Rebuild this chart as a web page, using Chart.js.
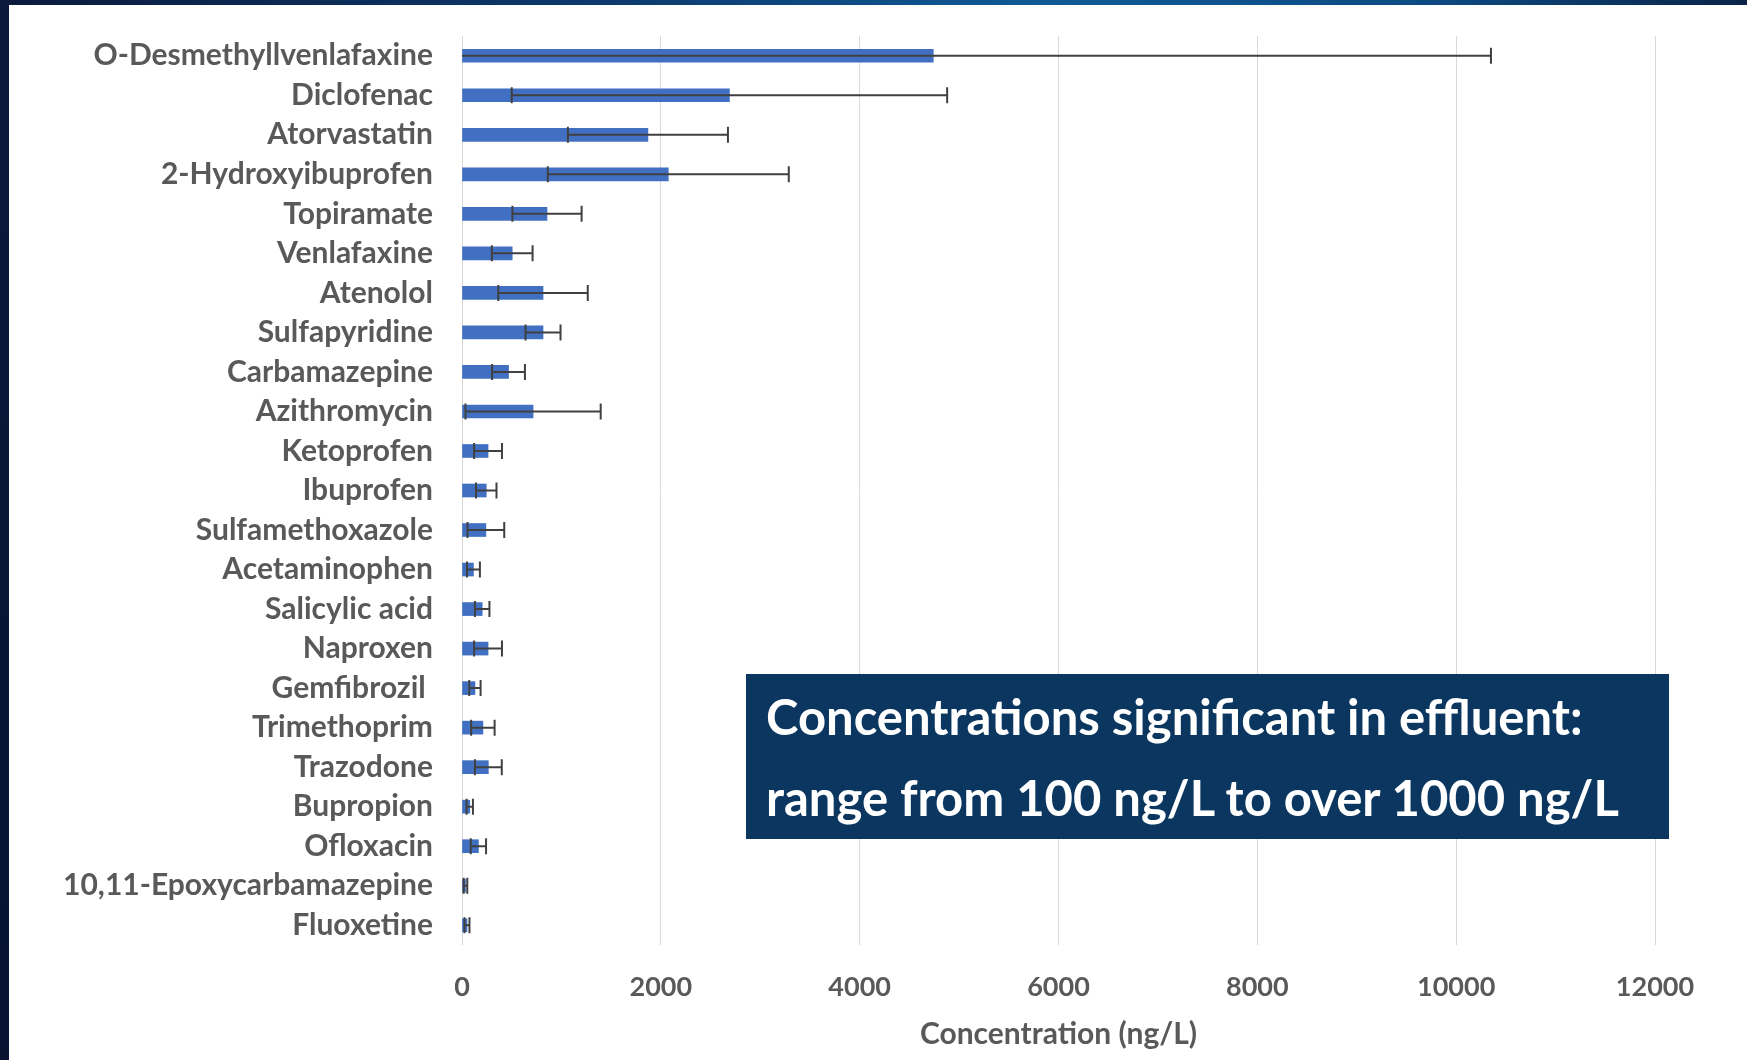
<!DOCTYPE html>
<html lang="en">

<head>
  <meta charset="UTF-8" />
  <title>Pharmaceutical concentrations in effluent</title>
  <script src="https://cdn.jsdelivr.net/npm/chart.js"></script>

  <style>
    html, body {
      margin: 0;
      padding: 0;
      background: #ffffff;
      overflow: hidden;
    }
    .frame-left {
      position: absolute;
      left: 0;
      top: 0;
      width: 9px;
      height: 1060px;
      background: linear-gradient(180deg, #0b1a3c 0%, #081636 50%, #061230 100%);
    }
    .frame-top {
      position: absolute;
      left: 0;
      top: 0;
      width: 1747px;
      height: 5px;
      background: linear-gradient(90deg, #0b1a3c 0%, #0d3a6e 35%, #0f5a96 60%, #0d4a82 82%, #0a2448 100%);
    }
    #wrap {
      position: absolute;
      left: 0;
      top: 0;
      width: 1747px;
      height: 1060px;
    }
    .note {
      position: absolute;
      left: 746px;
      top: 674px;
      width: 923px;
      height: 165px;
      background: #0a365f;
      color: #ffffff;
      font-family: Lato, "Open Sans", sans-serif;
      font-weight: 700;
      font-size: 49px;
    }
    .note span {
      position: absolute;
      left: 20px;
      line-height: 50px;
      white-space: nowrap;
    }
  </style>
</head>

<body>
  <div id="wrap">
    <canvas id="chartConc" width="1747" height="1060"></canvas>
  </div>
  <div class="frame-left"></div>
  <div class="frame-top"></div>
  <div class="note">
    <span style="top: 17px;">Concentrations significant in effluent:</span>
    <span style="top: 98px;">range from 100 ng/L to over 1000 ng/L</span>
  </div>

  <script>
    // data (ng/L)
    const compounds = [
      'O-Desmethyllvenlafaxine', 'Diclofenac', 'Atorvastatin', '2-Hydroxyibuprofen',
      'Topiramate', 'Venlafaxine', 'Atenolol', 'Sulfapyridine', 'Carbamazepine',
      'Azithromycin', 'Ketoprofen', 'Ibuprofen', 'Sulfamethoxazole', 'Acetaminophen',
      'Salicylic acid', 'Naproxen', 'Gemfibrozil ', 'Trimethoprim', 'Trazodone',
      'Bupropion', 'Ofloxacin', '10,11-Epoxycarbamazepine', 'Fluoxetine'
    ];
    const meanConc = [4740, 2690, 1870, 2075, 855, 505, 815, 815, 468, 715, 262, 244, 240, 115, 203, 262, 130, 210, 265, 78, 165, 35, 50];
    const sdConc = [5610, 2190, 805, 1212, 348, 205, 450, 176, 165, 680, 140, 103, 185, 65, 73, 140, 57, 118, 135, 32, 77, 18, 25];
    const xTicks = [0, 2000, 4000, 6000, 8000, 10000, 12000];

    const grey = '#595959';
    const fontFam = 'Lato, "Open Sans", sans-serif';

    // draws the +/- sd whiskers with the chart's own scales
    const errorBars = {
      id: 'errorBars',
      afterDatasetsDraw(chart) {
        const ctx = chart.ctx;
        const xs = chart.scales.x;
        const area = chart.chartArea;
        const meta = chart.getDatasetMeta(0);
        ctx.save();
        ctx.beginPath();
        ctx.rect(area.left, area.top, area.right - area.left, area.bottom - area.top);
        ctx.clip();
        ctx.strokeStyle = '#404040';
        ctx.lineWidth = 2;
        meta.data.forEach((bar, i) => {
          const y = bar.y;
          const lo = xs.getPixelForValue(meanConc[i] - sdConc[i]);
          const hi = xs.getPixelForValue(meanConc[i] + sdConc[i]);
          ctx.beginPath();
          ctx.moveTo(lo, y);
          ctx.lineTo(hi, y);
          ctx.moveTo(lo, y - 8);
          ctx.lineTo(lo, y + 8);
          ctx.moveTo(hi, y - 8);
          ctx.lineTo(hi, y + 8);
          ctx.stroke();
        });
        ctx.restore();
      }
    };

    const ctx = document.getElementById('chartConc').getContext('2d');
    new Chart(ctx, {
      type: 'bar',
      data: {
        labels: compounds,
        datasets: [{
          data: meanConc,
          backgroundColor: '#4170c2',
          barThickness: 13
        }]
      },
      options: {
        indexAxis: 'y',
        responsive: false,
        animation: false,
        layout: {
          padding: { left: 0, top: 36, right: 92, bottom: 0 }
        },
        plugins: {
          legend: { display: false },
          tooltip: { enabled: false }
        },
        scales: {
          y: {
            grid: { display: false, drawTicks: false },
            border: { display: false },
            ticks: {
              color: grey,
              padding: 29,
              font: { family: fontFam, size: 30, weight: '700' }
            },
            afterFit: (s) => {
              s.width = 462;
              s.paddingTop = 0;
              s.paddingBottom = 0;
            }
          },
          x: {
            min: 0,
            max: 12000,
            afterBuildTicks: (s) => { s.ticks = xTicks.map(v => ({ value: v })); },
            grid: { color: '#d9d9d9', lineWidth: 1, drawTicks: false },
            border: { display: false },
            ticks: {
              color: grey,
              padding: 26,
              maxRotation: 0,
              callback: (v) => String(v),
              font: { family: fontFam, size: 27, weight: '700' }
            },
            title: {
              display: true,
              text: 'Concentration (ng/L)',
              color: grey,
              padding: { top: 0, bottom: 8 },
              font: { family: fontFam, size: 30, weight: '700' }
            },
            afterFit: (s) => { s.height = 115; }
          }
        }
      },
      plugins: [errorBars]
    });
  </script>
</body>

</html>
